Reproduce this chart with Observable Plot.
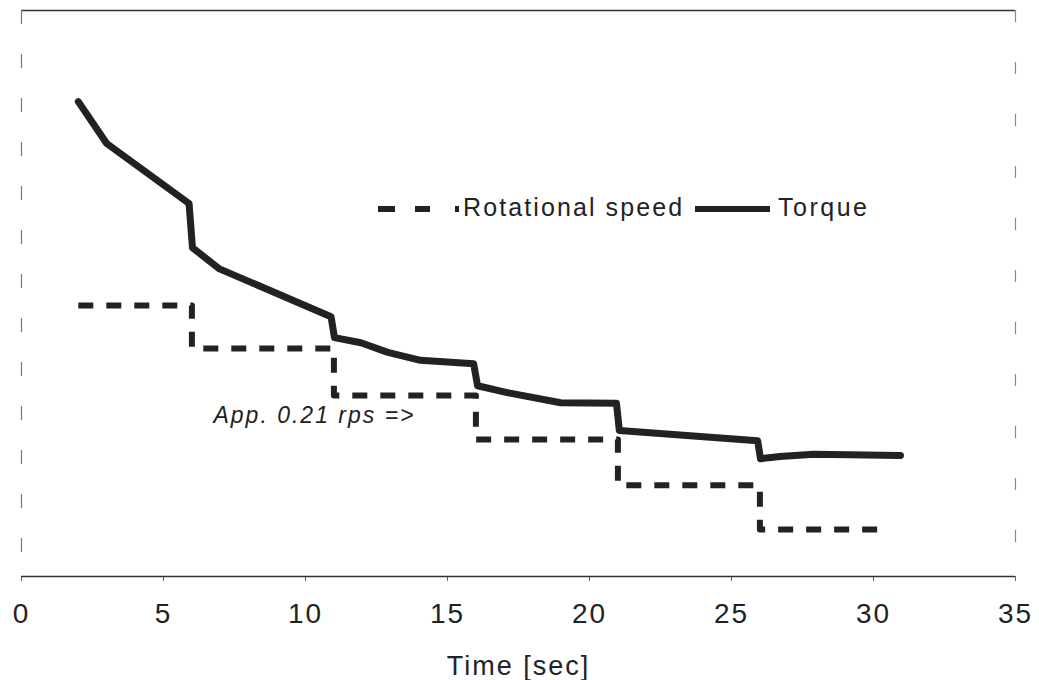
<!DOCTYPE html>
<html>
<head>
<meta charset="utf-8">
<script src="https://cdn.jsdelivr.net/npm/d3@7"></script>
<script src="https://cdn.jsdelivr.net/npm/@observablehq/plot@0.6"></script>
<style>
  html, body { margin: 0; padding: 0; background: #fff; }
  #wrap { position: relative; width: 1039px; height: 680px; font-family: "Liberation Sans", Arial, sans-serif; }
  #wrap svg text { letter-spacing: 2px; }
  #wrap svg text.xlabel { letter-spacing: 3px; }
  #wrap svg text.note { letter-spacing: 2.6px; }
  #legend { position: absolute; left: 370px; top: 190px; height: 40px; width: 520px; }
</style>
</head>
<body>
<div id="wrap"></div>
<script>
// Torque curve (time in s, value in arbitrary chart units)
const torqueTime  = [2, 3, 5.9, 6.02, 6.95, 10.9, 11.02, 11.95, 12.9, 14.05, 15.92, 16.06, 17.1, 18.98, 20.95, 21.05, 25.92, 26.02, 26.7, 27.9, 30.95];
const torqueValue = [8.39, 7.65, 6.59, 5.81, 5.44, 4.59, 4.22, 4.13, 3.96, 3.82, 3.76, 3.37, 3.25, 3.07, 3.06, 2.58, 2.40, 2.08, 2.12, 2.16, 2.14];

// Rotational speed steps
const speedTime  = [2, 6, 11, 16, 21, 26, 30.3];
const speedValue = [4.79, 4.03, 3.20, 2.42, 1.61, 0.83, 0.83];

const xTicks = [0, 5, 10, 15, 20, 25, 30, 35];
const xLabel = "Time [sec]";
const annotation = "App. 0.21 rps =>";
const seriesNames = ["Rotational speed", "Torque"];

const torque = torqueTime.map((t, i) => ({t, v: torqueValue[i]}));
const speed = speedTime.map((t, i) => ({t, v: speedValue[i]}));

const ink = "#222";

const chart = Plot.plot({
  width: 1039,
  height: 680,
  marginLeft: 21,
  marginRight: 24,
  marginTop: 10,
  marginBottom: 104,
  style: {fontFamily: "'Liberation Sans', Arial, sans-serif", color: ink, background: "#fff"},
  x: {domain: [0, 35]},
  y: {domain: [0, 10], axis: null},
  marks: [
    Plot.ruleY([10], {stroke: "#333", strokeWidth: 1.5}),
    Plot.ruleX([0], {stroke: "#777", strokeWidth: 1.2, strokeDasharray: "14,30"}),
    Plot.ruleX([35], {stroke: "#888", strokeWidth: 1.2, strokeDasharray: "12,40"}),
    Plot.axisX({ticks: xTicks, tickSize: 5, tickPadding: 22, fontSize: 28, stroke: "#666", label: null, tickFormat: d => String(d)}),
    Plot.ruleY([0], {stroke: "#333", strokeWidth: 1.5}),
    Plot.text([xLabel], {frameAnchor: "bottom", lineAnchor: "bottom", dy: 98, fontSize: 27, fill: ink, className: "xlabel"}),
    Plot.line(speed, {x: "t", y: "v", curve: "step-after", stroke: ink, strokeWidth: 6, strokeDasharray: "15,13", strokeLinecap: "butt"}),
    Plot.line(torque, {x: "t", y: "v", stroke: ink, strokeWidth: 7, strokeLinejoin: "round", strokeLinecap: "round"}),
    Plot.text([annotation], {x: [6.76], y: [2.85], text: d => d, textAnchor: "start", fontSize: 23, fontStyle: "italic", fill: ink, className: "note"})
  ]
});

const wrap = document.getElementById("wrap");
wrap.appendChild(chart);

// Legend overlay
const legend = document.createElement("div");
legend.id = "legend";
legend.innerHTML = `
<svg width="520" height="40" style="overflow:visible;font-family:'Liberation Sans', Arial, sans-serif">
  <line x1="8" x2="89" y1="19" y2="19" stroke="${ink}" stroke-width="6" stroke-dasharray="17,20,15,25,4"></line>
  <text x="93" y="26" font-size="25" fill="${ink}" style="letter-spacing:2.1px">${seriesNames[0]}</text>
  <line x1="325" x2="400" y1="19" y2="19" stroke="${ink}" stroke-width="6"></line>
  <text x="408" y="26" font-size="25" fill="${ink}" style="letter-spacing:2.5px">${seriesNames[1]}</text>
</svg>`;
wrap.appendChild(legend);
</script>
</body>
</html>
